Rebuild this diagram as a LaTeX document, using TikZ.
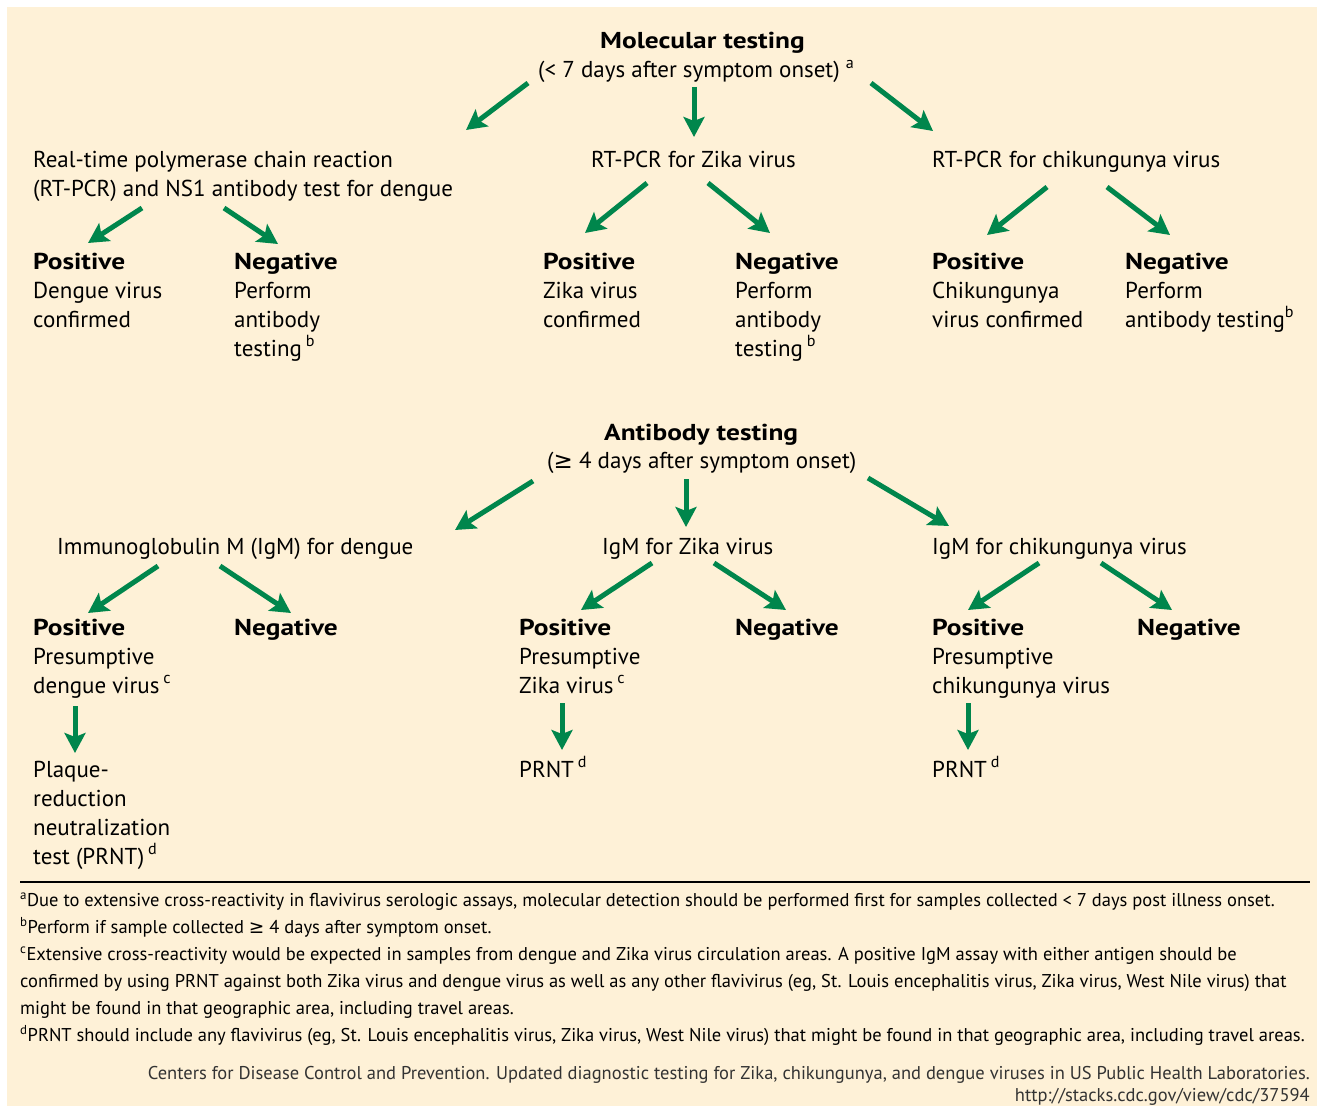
\documentclass[tikz,border=0pt]{standalone}
\usepackage{fontspec}
\setmainfont{PT Sans}[BoldFeatures={FakeStretch=1.19}]
\newfontfamily\symfont{DejaVu Sans}
\usetikzlibrary{arrows.meta,positioning}
\definecolor{cream}{HTML}{FEF1D7}
\definecolor{cdcgreen}{HTML}{00864C}
\newcommand\fnmark[1]{\textsuperscript{#1}}

\begin{document}
\begin{tikzpicture}[x=1pt,y=-1pt,
  txt/.style={anchor=base west,inner sep=0pt,align=left,font=\fontsize{23}{29}\selectfont},
  head/.style={txt,font=\fontsize{23}{29}\selectfont\bfseries},
  note/.style={anchor=base west,inner sep=0pt,align=left,font=\fontsize{18.5}{27}\selectfont},
  arr/.style={draw=cdcgreen,line width=5pt,-{Stealth[length=20pt,width=21pt,inset=4pt]}}]

  \fill[white] (0,0) rectangle (1324,1113);
  \fill[cream] (7,7) rectangle (1317,1106);
  \useasboundingbox (0,0) rectangle (1324,1113);

  \node[head] (mol) at (600,49) {Molecular testing};
  \node[txt] (molsub) at (538,78) {(< 7 days after symptom onset) \fnmark{a}};

  \node[txt] (pcrd) at (33,196) {Real-time polymerase chain reaction\\(RT-PCR) and NS1 antibody test for dengue};
  \node[txt] (pcrz) at (591,167) {RT-PCR for Zika virus};
  \node[txt] (pcrc) at (932,167) {RT-PCR for chikungunya virus};

  \node[txt] (pd) at (33,327) {\textbf{Positive}\\Dengue virus\\confirmed};
  \node[txt] (nd) at (234,356) {\textbf{Negative}\\Perform\\antibody\\testing\,\fnmark{b}};
  \node[txt] (pz) at (543,327) {\textbf{Positive}\\Zika virus\\confirmed};
  \node[txt] (nz) at (735,356) {\textbf{Negative}\\Perform\\antibody\\testing\,\fnmark{b}};
  \node[txt] (pc) at (932,327) {\textbf{Positive}\\Chikungunya\\virus confirmed};
  \node[txt] (nc) at (1125,327) {\textbf{Negative}\\Perform\\antibody testing\fnmark{b}};

  \node[head] (ab) at (604,440) {Antibody testing};
  \node[txt] (absub) at (547,468) {({\symfont ≥} 4 days after symptom onset)};

  \node[txt] (igmd) at (57,554) {Immunoglobulin M (IgM) for dengue};
  \node[txt] (igmz) at (602,554) {IgM for Zika virus};
  \node[txt] (igmc) at (932,554) {IgM for chikungunya virus};

  \node[txt] (apd) at (33,693) {\textbf{Positive}\\Presumptive\\dengue virus\,\fnmark{c}};
  \node[head] (and) at (234,635) {Negative};
  \node[txt] (apz) at (519,693) {\textbf{Positive}\\Presumptive\\Zika virus\,\fnmark{c}};
  \node[head] (anz) at (735,635) {Negative};
  \node[txt] (apc) at (932,693) {\textbf{Positive}\\Presumptive\\chikungunya virus};
  \node[head] (anc) at (1137,635) {Negative};

  \node[txt] (prd) at (33,864) {Plaque-\\reduction\\neutralization\\test (PRNT)\,\fnmark{d}};
  \node[txt] (prz) at (519,777) {PRNT\,\fnmark{d}};
  \node[txt] (prc) at (932,777) {PRNT\,\fnmark{d}};

  \foreach \n/\xa/\ya/\xb/\yb in {
      m1/528/83/466/130, m2/694/87/694/137, m3/871/83/933/131,
      d1/142/208/88/243, d2/224/208/278/244,
      z1/647/183/585/233, z2/708/183/770/233,
      c1/1047/187/987/235, c2/1107/187/1170/235,
      a1/533/481/455/530, a2/686/479/686/527, a3/868/478/949/526,
      e1/158/566/88/613, e2/220/566/291/613,
      f1/652/563/581/610, f2/714/563/786/610,
      g1/1039/563/968/610, g2/1101/563/1172/610,
      h1/75/706/75/753, h2/562/703/562/750, h3/968/703/968/750} {
    \coordinate (\n s) at (\xa,\ya);
    \coordinate (\n t) at (\xb,\yb);
    \draw[arr] (\n s) -- (\n t);
  }

  \coordinate (rulel) at (20,882);
  \coordinate (ruler) at (1310,882);
  \draw[line width=1.2pt] (rulel) -- (ruler);

  \node[note] (notes) at (20,1041) {\fnmark{a}Due to extensive cross-reactivity in flavivirus serologic assays, molecular detection should be performed first for samples collected < 7 days post illness onset.\\
    \fnmark{b}Perform if sample collected {\symfont ≥} 4 days after symptom onset.\\
    \fnmark{c}Extensive cross-reactivity would be expected in samples from dengue and Zika virus circulation areas. A positive IgM assay with either antigen should be\\
    confirmed by using PRNT against both Zika virus and dengue virus as well as any other flavivirus (eg, St. Louis encephalitis virus, Zika virus, West Nile virus) that\\
    might be found in that geographic area, including travel areas.\\
    \fnmark{d}PRNT should include any flavivirus (eg, St. Louis encephalitis virus, Zika virus, West Nile virus) that might be found in that geographic area, including travel areas.};

  \node[note,anchor=base east,align=right,text=black!80,font=\fontsize{18.5}{22}\selectfont] (cite) at (1310,1101) {Centers for Disease Control and Prevention. Updated diagnostic testing for Zika, chikungunya, and dengue viruses in US Public Health Laboratories.\\http://stacks.cdc.gov/view/cdc/37594};
\end{tikzpicture}
\end{document}
